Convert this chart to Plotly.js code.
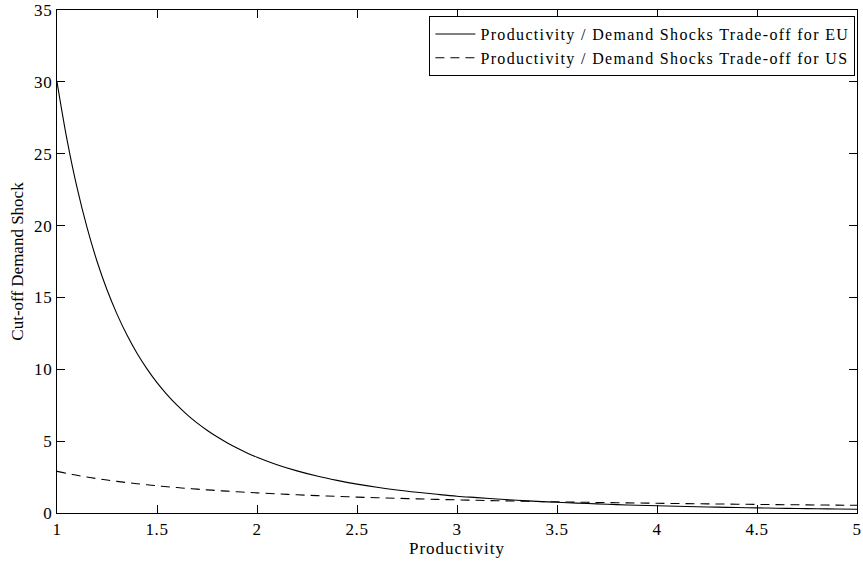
<!DOCTYPE html>
<html>
<head>
<meta charset="utf-8">
<script src="https://cdn.plot.ly/plotly-3.0.1.min.js"></script>
<style>
html,body{margin:0;padding:0;background:#fff;}
#chart{width:863px;height:561px;}
.legendtext{letter-spacing:1.35px;}
.xtick text,.ytick text{letter-spacing:0.6px;}
.xtitle{letter-spacing:1px;}
</style>
</head>
<body>
<div id="chart"></div>
<script>
const productivity = [1,1.05,1.1,1.15,1.2,1.25,1.3,1.35,1.4,1.45,1.5,1.55,1.6,1.65,1.7,1.75,1.8,1.85,1.9,1.95,2.0,2.1,2.2,2.3,2.4,2.5,2.6,2.7,2.8,2.9,3.0,3.1,3.2,3.3,3.4,3.5,3.6,3.7,3.8,3.9,4.0,4.1,4.2,4.3,4.4,4.5,4.6,4.7,4.8,4.9,5.0];
const euCutoff = [30,25.98,22.65,19.87,17.52,15.53,13.84,12.38,11.12,10.03,9.07,8.24,7.50,6.85,6.27,5.76,5.30,4.89,4.52,4.18,3.88,3.36,2.93,2.57,2.27,2.01,1.79,1.60,1.44,1.30,1.17,1.07,0.97,0.885,0.81,0.744,0.686,0.633,0.585,0.541,0.502,0.467,0.435,0.406,0.379,0.355,0.333,0.312,0.293,0.276,0.260];
const usCutoff = [2.90,2.755,2.624,2.504,2.395,2.294,2.202,2.116,2.037,1.963,1.895,1.830,1.770,1.714,1.661,1.611,1.565,1.520,1.478,1.438,1.401,1.331,1.267,1.209,1.157,1.108,1.063,1.022,0.984,0.948,0.915,0.884,0.855,0.828,0.802,0.778,0.756,0.734,0.714,0.695,0.677,0.659,0.643,0.627,0.612,0.598,0.584,0.571,0.559,0.547,0.535];
const seriesNames = ["Productivity / Demand Shocks Trade-off for EU","Productivity / Demand Shocks Trade-off for US"];
const xTicks = [1,1.5,2,2.5,3,3.5,4,4.5,5];
const yTicks = [0,5,10,15,20,25,30,35];

const font = {family: "Liberation Serif, Times New Roman, serif", color: "#000"};
const f17 = Object.assign({size: 17}, font);
const traces = [
  {x: productivity, y: euCutoff, name: seriesNames[0], mode: "lines", line: {color: "#000", width: 1.1, shape: "spline"}},
  {x: productivity, y: usCutoff, name: seriesNames[1], mode: "lines", line: {color: "#000", width: 1.1, dash: "9px,6px", shape: "spline"}}
];
const axisCommon = {showgrid: false, zeroline: false, showline: true, linecolor: "#000", linewidth: 1.3, mirror: "ticks", ticks: "inside", ticklen: 8, tickwidth: 1, tickcolor: "#000", tickfont: f17};
const layout = {
  width: 863, height: 561,
  margin: {l: 57, r: 6, t: 10, b: 48},
  paper_bgcolor: "#fff", plot_bgcolor: "#fff",
  font: font,
  showlegend: true,
  legend: {x: 0.998, xanchor: "right", y: 0.988, yanchor: "top", bordercolor: "#000", borderwidth: 1, bgcolor: "#fff", font: Object.assign({size: 16}, font), tracegroupgap: 0, itemwidth: 40},
  xaxis: Object.assign({range: [1,5], tickvals: xTicks, ticktext: xTicks.map(String), title: {text: "Productivity", font: f17, standoff: 0}}, axisCommon),
  yaxis: Object.assign({range: [0,35], tickvals: yTicks, ticktext: yTicks.map(String), title: {text: "Cut-off Demand Shock", font: f17, standoff: 6}}, axisCommon)
};
Plotly.newPlot("chart", traces, layout, {displayModeBar: false, staticPlot: true});
</script>
</body>
</html>
